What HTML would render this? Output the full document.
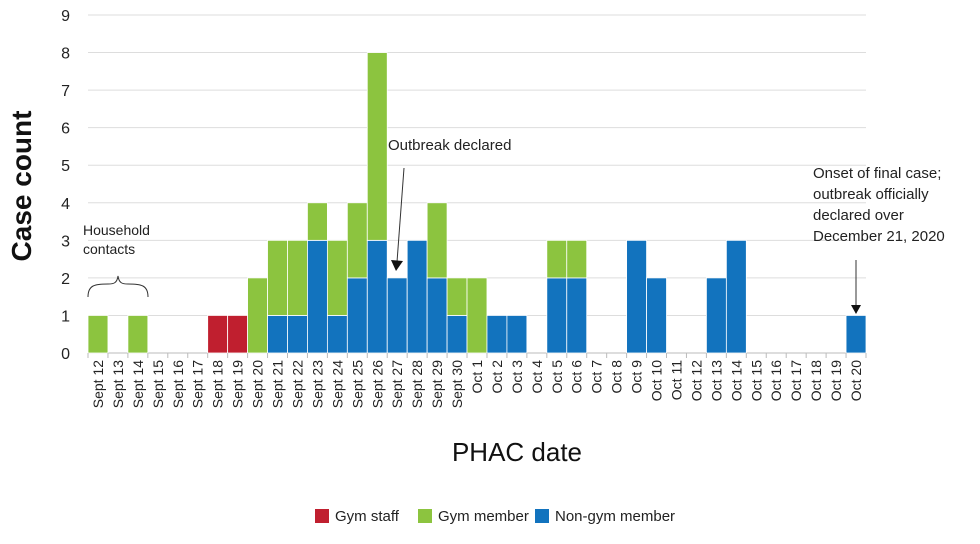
<!DOCTYPE html>
<html><head><meta charset="utf-8"><style>
body{margin:0;background:#fff;}
svg{display:block;font-family:"Liberation Sans",sans-serif;}
</style></head><body>
<svg id="chart" width="980" height="544" viewBox="0 0 980 544">
<g id="grid"></g><g id="bars"></g><g id="xt"></g><g id="yt"></g>
<text transform="translate(31,186) rotate(-90)" text-anchor="middle" font-size="28" font-weight="bold" fill="#111">Case count</text>
<text x="517" y="461" text-anchor="middle" font-size="26" fill="#111">PHAC date</text>
<g>
<text x="83" y="235" font-size="14" fill="#222">Household</text>
<text x="83" y="254" font-size="14" fill="#222">contacts</text>
<path d="M88,297 C88,285 95,284 108,284 C114,284 117,283 118,276 C119,283 122,284 128,284 C141,284 148,285 148,297" fill="none" stroke="#333" stroke-width="1"/>
</g>
<g>
<text x="388" y="150" font-size="15" fill="#222">Outbreak declared</text>
<line x1="404" y1="168" x2="397" y2="262" stroke="#333" stroke-width="1"/>
<polygon points="391,260 403,261 396,271" fill="#111"/>
</g>
<g>
<text x="813" y="178" font-size="15" fill="#222">Onset of final case;</text>
<text x="813" y="199" font-size="15" fill="#222">outbreak officially</text>
<text x="813" y="220" font-size="15" fill="#222">declared over</text>
<text x="813" y="241" font-size="15" fill="#222">December 21, 2020</text>
<line x1="856" y1="260" x2="856" y2="305" stroke="#333" stroke-width="1"/>
<polygon points="851,305 861,305 856,314" fill="#111"/>
</g>
<g font-size="15" fill="#222">
<rect x="315" y="509" width="14" height="14" fill="#c01f2f"/>
<text x="335" y="521">Gym staff</text>
<rect x="418" y="509" width="14" height="14" fill="#8cc43f"/>
<text x="438" y="521">Gym member</text>
<rect x="535" y="509" width="14" height="14" fill="#1273be"/>
<text x="555" y="521">Non-gym member</text>
</g>
</svg>
<script>
const categories=["Sept 12","Sept 13","Sept 14","Sept 15","Sept 16","Sept 17","Sept 18","Sept 19","Sept 20","Sept 21","Sept 22","Sept 23","Sept 24","Sept 25","Sept 26","Sept 27","Sept 28","Sept 29","Sept 30","Oct 1","Oct 2","Oct 3","Oct 4","Oct 5","Oct 6","Oct 7","Oct 8","Oct 9","Oct 10","Oct 11","Oct 12","Oct 13","Oct 14","Oct 15","Oct 16","Oct 17","Oct 18","Oct 19","Oct 20"];
const gymStaff=[0,0,0,0,0,0,1,1,0,0,0,0,0,0,0,0,0,0,0,0,0,0,0,0,0,0,0,0,0,0,0,0,0,0,0,0,0,0,0];
const nonGym=[0,0,0,0,0,0,0,0,0,1,1,3,1,2,3,2,3,2,1,0,1,1,0,2,2,0,0,3,2,0,0,2,3,0,0,0,0,0,1];
const gymMember=[1,0,1,0,0,0,0,0,2,2,2,1,2,2,5,0,0,2,1,2,0,0,0,1,1,0,0,0,0,0,0,0,0,0,0,0,0,0,0];
const yTicks=[0,1,2,3,4,5,6,7,8,9];
const NS="http://www.w3.org/2000/svg";
const x0=88,x1=866,yb=353,yt=15,ymax=9;
const bw=(x1-x0)/categories.length;
const xs=i=>x0+i*bw;
const ys=v=>yb-(yb-yt)*v/ymax;
function mk(t,a,p){const e=document.createElementNS(NS,t);for(const k in a)e.setAttribute(k,a[k]);p.appendChild(e);return e;}
const grid=document.getElementById('grid'),yt_=document.getElementById('yt');
yTicks.forEach(v=>{
 const l=mk('line',{x1:x0,x2:x1,y1:ys(v),y2:ys(v),stroke:v===0?'#bbb':'#ddd','stroke-width':1},grid);
 
 
 const t=mk('text',{x:70,y:ys(v)+6,'text-anchor':'end','font-size':16,fill:'#222'},yt_);
 t.textContent=v;
 
 
});
const bars=document.getElementById('bars'),xt=document.getElementById('xt');
const series=[[gymStaff,'#c01f2f','staff'],[nonGym,'#1273be','non-gym'],[gymMember,'#8cc43f','member']];
categories.forEach((c,i)=>{
 let base=0;
 series.forEach(([arr,col,nm])=>{
  const v=arr[i]; if(!v)return;
  const r=mk('rect',{x:xs(i),y:ys(base+v),width:bw,height:ys(base)-ys(base+v),fill:col,stroke:'#fff','stroke-width':0.8},bars);
  
  
  base+=v;
 });
 const tk=mk('line',{x1:xs(i),x2:xs(i),y1:yb,y2:yb+5,stroke:'#bbb'},xt);
 
 
 const cx=xs(i)+bw/2+5;
 const t=mk('text',{transform:`translate(${cx},360) rotate(-90)`,'text-anchor':'end','font-size':14,fill:'#222'},xt);
 t.textContent=c;
 
 
});
mk('line',{x1:x1,x2:x1,y1:yb,y2:yb+5,stroke:'#bbb'},xt);
</script>
</body></html>
